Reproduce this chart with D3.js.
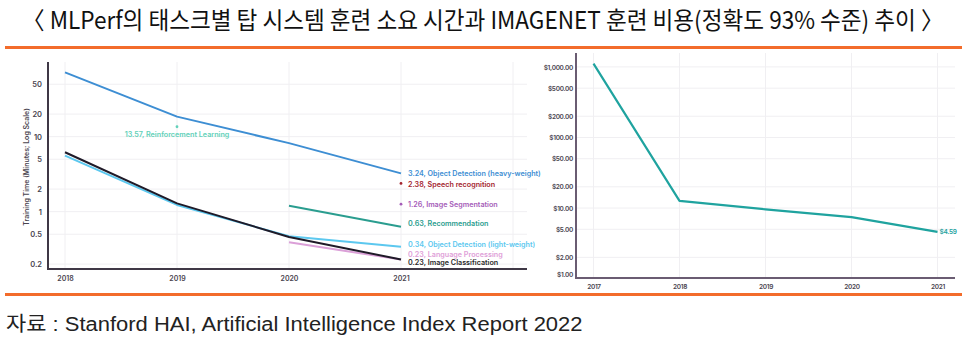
<!DOCTYPE html>
<html>
<head>
<meta charset="utf-8">
<script src="https://cdn.jsdelivr.net/npm/d3@7"></script>
<style>
  html, body { margin: 0; padding: 0; background: #fff; }
  svg { display: block; }
</style>
</head>
<body>
<svg id="chart" width="967" height="343"></svg>
<script>
// ---- data ----
const titleText = "〈 MLPerf의 태스크별 탑 시스템 훈련 소요 시간과 IMAGENET 훈련 비용(정확도 93% 수준) 추이 〉";
const sourceText = "자료 : Stanford HAI, Artificial Intelligence Index Report 2022";

// MLPerf training time (minutes), per year
const trainYears = [2018, 2019, 2020, 2021];
const odHeavy    = [72, 18.5, 8.2, 3.24];
const imgClass   = [6.2, 1.29, 0.46, 0.23];
const odLight    = [5.6, 1.23, 0.47, 0.34];
const recommend  = [null, null, 1.2, 0.63];
const langProc   = [null, null, 0.39, 0.23];
const speechRec  = [null, null, null, 2.38];
const imgSeg     = [null, null, null, 1.26];
const reinforce  = [null, 13.57, null, null];

const seriesNames = [
  "Object Detection (heavy-weight)", "Image Classification", "Object Detection (light-weight)",
  "Recommendation", "Language Processing", "Speech recognition", "Image Segmentation",
  "Reinforcement Learning"
];
const trainTicks = [0.2, 0.5, 1, 2, 5, 10, 20, 50];

// ImageNet training cost (USD, 93% accuracy)
const costYears = [2017, 2018, 2019, 2020, 2021];
const costValues = [1112.64, 12.6, 9.58, 7.43, 4.59];
const costTicks = [1, 2, 5, 10, 20, 50, 100, 200, 500, 1000];

// ---- styles ----
const seriesStyle = [
  { color: "#3d8ed3", label: "#3d8ed3", dy: 0 },
  { color: "#1f1a28", label: "#2b2b2b", dy: 3 },
  { color: "#5cc8ef", label: "#5cc8ef", dy: -2.5 },
  { color: "#2a9d8f", label: "#2a9d8f", dy: -3 },
  { color: "#dba0d8", label: "#e0a0d8", dy: -5 },
  { color: "#a3242e", label: "#a3242e", dy: 1.5 },
  { color: "#a55cb8", label: "#a55cb8", dy: 0 },
  { color: "#62d1b9", label: "#62d1b9", dy: 0 }
];
const seriesData = [odHeavy, imgClass, odLight, recommend, langProc, speechRec, imgSeg, reinforce];

const svg = d3.select("#chart");
const tickFont = "Inter, 'Liberation Sans', Arial, sans-serif";

// squeeze a text horizontally so it spans the given width
function fitText(sel, x, y, width) {
  const natural = sel.node().getComputedTextLength();
  const sx = width / natural;
  sel.attr("x", 0).attr("y", 0)
    .attr("transform", `translate(${x},${y}) scale(${sx},1)`);
}

// ---- header / footer ----
const title = svg.append("text")
  .style("font-family", "'Liberation Sans Narrow', 'Noto Sans CJK KR', sans-serif")
  .style("font-size", "24px").style("fill", "#111")
  .text(titleText);
fitText(title, 22, 29, 922);

svg.append("rect").attr("x", 5).attr("y", 46).attr("width", 957).attr("height", 3).attr("fill", "#f36c2b");
svg.append("rect").attr("x", 5).attr("y", 293).attr("width", 957).attr("height", 3).attr("fill", "#f36c2b");

const source = svg.append("text")
  .style("font-family", "'Liberation Sans', 'Noto Sans CJK KR', sans-serif")
  .style("font-size", "20px").style("fill", "#222")
  .text(sourceText);
fitText(source, 6, 331, 577);

// ---- left panel: training time ----
const L = { x0: 48, x1: 527, y0: 62, y1: 269 };
const xL = d3.scaleLinear().domain([2018, 2021]).range([65, 401]);
const yL = d3.scaleLog().domain([0.172, 99]).range([L.y1, L.y0]);

const gL = svg.append("g");
// grid
gL.selectAll(".hg").data(trainTicks).join("line")
  .attr("x1", L.x0).attr("x2", L.x1)
  .attr("y1", d => yL(d)).attr("y2", d => yL(d))
  .attr("stroke", "#f0eff2").attr("stroke-width", 1);
gL.selectAll(".vg").data(trainYears.concat([2022])).join("line")
  .attr("x1", d => xL(d)).attr("x2", d => xL(d))
  .attr("y1", L.y0).attr("y2", L.y1)
  .attr("stroke", "#f0eff2").attr("stroke-width", 1);

// y axis
const yAxisL = d3.axisLeft(yL).tickValues(trainTicks).tickSize(0).tickPadding(6)
  .tickFormat(d3.format("~g"));
gL.append("g").attr("transform", `translate(${L.x0},0)`).call(yAxisL)
  .call(g => g.select(".domain").remove())
  .call(g => g.selectAll("text").style("font-family", tickFont).style("font-size", "7.5px")
    .style("fill", "#4a4550").style("font-weight", "600"));
// x axis
const xAxisL = d3.axisBottom(xL).tickValues(trainYears).tickSize(0).tickPadding(7)
  .tickFormat(d3.format("d"));
gL.append("g").attr("transform", `translate(0,${L.y1})`).call(xAxisL)
  .call(g => g.select(".domain").remove())
  .call(g => g.selectAll("text").style("font-family", tickFont).style("font-size", "7px")
    .style("fill", "#4a4550").style("font-weight", "600"));
// axis lines
gL.append("line").attr("x1", L.x0).attr("x2", L.x0).attr("y1", L.y0).attr("y2", L.y1 + 1)
  .attr("stroke", "#3f3846").attr("stroke-width", 2);
gL.append("line").attr("x1", L.x0).attr("x2", L.x1).attr("y1", L.y1).attr("y2", L.y1)
  .attr("stroke", "#3f3846").attr("stroke-width", 2);

gL.append("text")
  .attr("transform", `translate(29,167) rotate(-90)`)
  .attr("text-anchor", "middle")
  .style("font-family", tickFont).style("font-size", "7px").style("fill", "#4a4550")
  .style("font-weight", "600")
  .text("Training Time (Minutes; Log Scale)");

const lineL = d3.line()
  .defined(d => d.v != null)
  .x(d => xL(d.year)).y(d => yL(d.v));

// draw order: lighter series first, black on top
const drawOrder = [4, 2, 3, 0, 1];
drawOrder.forEach(i => {
  const pts = trainYears.map((year, j) => ({ year, v: seriesData[i][j] }));
  gL.append("path").datum(pts)
    .attr("d", lineL)
    .attr("fill", "none")
    .attr("stroke", seriesStyle[i].color)
    .attr("stroke-width", 2)
    .attr("stroke-linejoin", "round");
});

// single-point series
[5, 6, 7].forEach(i => {
  seriesData[i].forEach((v, j) => {
    if (v == null) return;
    gL.append("circle").attr("cx", xL(trainYears[j])).attr("cy", yL(v)).attr("r", 1.4)
      .attr("fill", seriesStyle[i].color);
  });
});

// end labels at 2021
const labelFmt = d3.format(".2f");
[0, 5, 6, 3, 2, 4, 1].forEach(i => {
  const v = seriesData[i][3];
  gL.append("text")
    .attr("x", xL(2021) + 7)
    .attr("y", yL(v) + seriesStyle[i].dy)
    .attr("dy", "0.35em")
    .style("font-family", tickFont).style("font-size", "7.2px").style("font-weight", "600")
    .style("fill", seriesStyle[i].label)
    .text(`${labelFmt(v)}, ${seriesNames[i]}`);
});
// reinforcement learning label, below its point
{
  const v = reinforce[1];
  gL.append("text")
    .attr("x", xL(2019)).attr("y", yL(v) + 8)
    .attr("dy", "0.35em").attr("text-anchor", "middle")
    .style("font-family", tickFont).style("font-size", "7.2px").style("font-weight", "600")
    .style("fill", seriesStyle[7].label)
    .text(`${labelFmt(v)}, ${seriesNames[7]}`);
}

// ---- right panel: ImageNet training cost ----
const R = { x0: 576, x1: 955, y0: 53, y1: 278 };
const xR = d3.scaleLinear().domain([2017, 2021]).range([593.5, 937.5]);
const yR = d3.scaleLog().domain([1, 1575]).range([278.6, R.y0]);

const gR = svg.append("g");
gR.selectAll(".hg").data(costTicks).join("line")
  .attr("x1", R.x0).attr("x2", R.x1)
  .attr("y1", d => yR(d)).attr("y2", d => yR(d))
  .attr("stroke", "#f0eff2").attr("stroke-width", 1);
gR.selectAll(".vg").data(costYears).join("line")
  .attr("x1", d => xR(d)).attr("x2", d => xR(d))
  .attr("y1", R.y0).attr("y2", R.y1)
  .attr("stroke", "#f0eff2").attr("stroke-width", 1);

const money = d3.format("$,.2f");
const yAxisR = d3.axisLeft(yR).tickValues(costTicks).tickSize(0).tickPadding(3)
  .tickFormat(money);
gR.append("g").attr("transform", `translate(${R.x0},0)`).call(yAxisR)
  .call(g => g.select(".domain").remove())
  .call(g => g.selectAll(".tick").filter(d => d === 1).select("text").attr("y", -4))
  .call(g => g.selectAll("text").style("font-family", tickFont).style("font-size", "6.5px")
    .style("fill", "#4a4550").style("font-weight", "600").style("letter-spacing", "-0.3px"));
const xAxisR = d3.axisBottom(xR).tickValues(costYears).tickSize(0).tickPadding(6)
  .tickFormat(d3.format("d"));
gR.append("g").attr("transform", `translate(0,${R.y1})`).call(xAxisR)
  .call(g => g.select(".domain").remove())
  .call(g => g.selectAll("text").style("font-family", tickFont).style("font-size", "6.5px")
    .style("fill", "#4a4550").style("font-weight", "600").style("letter-spacing", "-0.3px"));

gR.append("line").attr("x1", R.x0).attr("x2", R.x0).attr("y1", R.y0).attr("y2", R.y1 + 1)
  .attr("stroke", "#6a5c72").attr("stroke-width", 2);
gR.append("line").attr("x1", R.x0).attr("x2", R.x1).attr("y1", R.y1).attr("y2", R.y1)
  .attr("stroke", "#6a5c72").attr("stroke-width", 2);

const costPts = costYears.map((year, j) => ({ year, v: costValues[j] }));
gR.append("path").datum(costPts)
  .attr("d", d3.line().x(d => xR(d.year)).y(d => yR(d.v)))
  .attr("fill", "none").attr("stroke", "#1fa39f").attr("stroke-width", 2.2)
  .attr("stroke-linejoin", "round");

gR.append("text")
  .attr("x", xR(2021) + 2).attr("y", yR(costValues[4]))
  .attr("dy", "0.35em")
  .style("font-family", tickFont).style("font-size", "6.5px").style("font-weight", "600")
  .style("fill", "#1fa39f").style("letter-spacing", "-0.3px")
  .text(money(costValues[4]));
</script>
</body>
</html>
